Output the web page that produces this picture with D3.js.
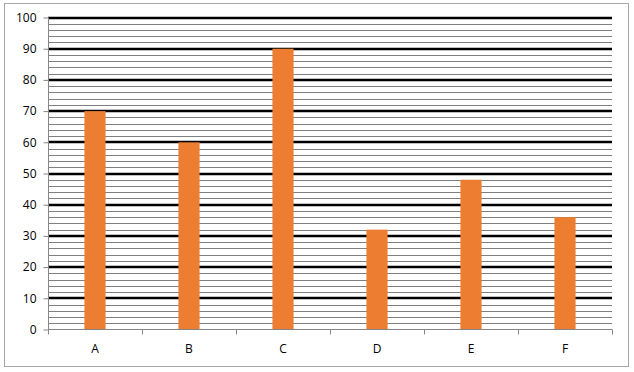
<!DOCTYPE html>
<html lang="en">

<head>
    <script src='https://d3js.org/d3.v7.min.js'></script>
    <style>
        body { margin: 0; background: #fff; }
        text { font-family: "Open Sans", "Liberation Sans", sans-serif; font-size: 12px; fill: #000; }
    </style>
</head>

<body>

    <script>

        const categories = ["A", "B", "C", "D", "E", "F"];
        const values = [70, 60, 90, 32, 48, 36];
        const majorTicks = [0, 10, 20, 30, 40, 50, 60, 70, 80, 90, 100];
        const minorTicks = d3.range(0, 101, 2);

        const width = 634;
        const height = 372;
        const plot = { left: 48, right: 612, top: 17.5, bottom: 329.5 };

        var svg = d3.select("body")
            .append("svg")
            .attr("width", width)
            .attr("height", height);

        // chart border
        svg.append("rect")
            .attr("x", 4.5)
            .attr("y", 3.5)
            .attr("width", 624)
            .attr("height", 363)
            .attr("fill", "#fff")
            .attr("stroke", "#a6a6a6");

        var x = d3.scaleBand()
            .domain(categories)
            .range([plot.left, plot.right]);

        var y = d3.scaleLinear()
            .domain([0, 100])
            .range([plot.bottom, plot.top]);

        // minor gridlines
        svg.append("g")
            .selectAll("line")
            .data(minorTicks.filter(function (d) { return d % 10 != 0; }))
            .enter()
            .append("line")
            .attr("x1", plot.left)
            .attr("x2", plot.right)
            .attr("y1", function (d) { return Math.round(y(d)) + 0.5; })
            .attr("y2", function (d) { return Math.round(y(d)) + 0.5; })
            .attr("stroke", "#7f7f7f")
            .attr("stroke-width", 1);

        // major gridlines
        svg.append("g")
            .selectAll("line")
            .data(majorTicks.filter(function (d) { return d > 0; }))
            .enter()
            .append("line")
            .attr("x1", plot.left)
            .attr("x2", plot.right)
            .attr("y1", function (d) { return Math.round(y(d)); })
            .attr("y2", function (d) { return Math.round(y(d)); })
            .attr("stroke", "#000")
            .attr("stroke-width", 2.5);

        // bars
        var barWidth = x.bandwidth() * 0.225;
        svg.append("g")
            .selectAll("rect")
            .data(values)
            .enter()
            .append("rect")
            .attr("x", function (d, i) { return x(categories[i]) + x.bandwidth() / 2 - barWidth / 2; })
            .attr("y", function (d) { return y(d); })
            .attr("width", barWidth)
            .attr("height", function (d) { return y(0) - y(d); })
            .attr("fill", "#ed7d31");

        // y axis
        var y_axis = d3.axisLeft(y)
            .tickValues(majorTicks)
            .tickSize(5)
            .tickPadding(7);
        var gy = svg.append("g")
            .attr("transform", "translate(" + (plot.left + 0.5) + ",0)")
            .call(y_axis);
        gy.select(".domain").attr("stroke", "#868686").attr("d", "M0," + plot.top + "V" + plot.bottom);
        gy.selectAll(".tick line").attr("stroke", "#868686");
        gy.selectAll("text").style("font-size", "12px");

        // x axis
        svg.append("line")
            .attr("x1", plot.left)
            .attr("x2", plot.right)
            .attr("y1", plot.bottom)
            .attr("y2", plot.bottom)
            .attr("stroke", "#868686");

        svg.append("g")
            .selectAll("line")
            .data(categories.concat(["end"]))
            .enter()
            .append("line")
            .attr("x1", function (d, i) { return Math.round(plot.left + i * x.bandwidth()) + 0.5; })
            .attr("x2", function (d, i) { return Math.round(plot.left + i * x.bandwidth()) + 0.5; })
            .attr("y1", plot.bottom)
            .attr("y2", plot.bottom + 5)
            .attr("stroke", "#868686");

        svg.append("g")
            .selectAll("text")
            .data(categories)
            .enter()
            .append("text")
            .attr("x", function (d) { return x(d) + x.bandwidth() / 2; })
            .attr("y", 353)
            .attr("text-anchor", "middle")
            .text(function (d) { return d; });

    </script>

</body>

</html>
